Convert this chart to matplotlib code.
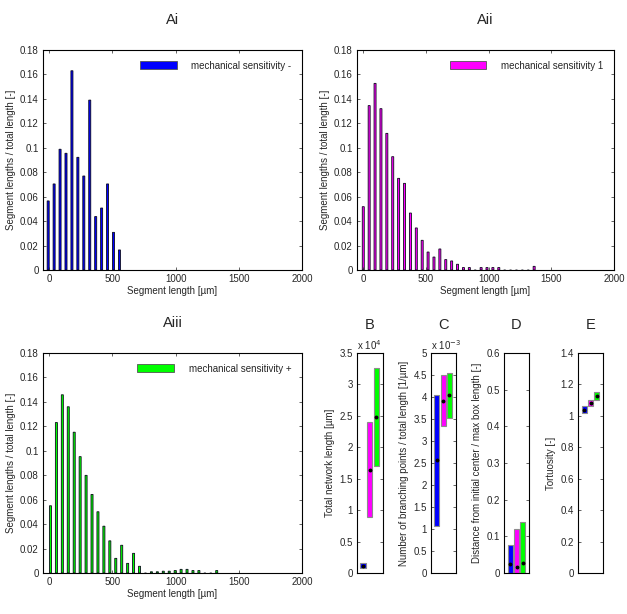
import matplotlib.pyplot as plt
from matplotlib.patches import Patch
from matplotlib.ticker import FuncFormatter

plt.rcParams['font.family'] = ['Liberation Sans', 'DejaVu Sans']
plt.rcParams['font.size'] = 7
plt.rcParams['text.color'] = '#262626'
plt.rcParams['xtick.color'] = '#262626'
plt.rcParams['ytick.color'] = '#262626'
plt.rcParams['axes.labelcolor'] = '#262626'

# histogram bin centres [um]
bin_centres = [0, 47, 94, 141, 188, 235, 282, 329, 376, 423, 470, 517, 564, 611, 658,
               705, 752, 799, 846, 893, 940, 987, 1034, 1081, 1128, 1175, 1222, 1269,
               1316, 1363]

# fraction of total length per bin
hist_minus = [0.0565, 0.0704, 0.0988, 0.0955, 0.163, 0.0922, 0.0769, 0.139, 0.0437,
              0.0507, 0.0704, 0.0308, 0.0164]
hist_one = [0.0518, 0.1345, 0.1527, 0.132, 0.1118, 0.0927, 0.075, 0.0709, 0.0466,
            0.0344, 0.0243, 0.0147, 0.0106, 0.0172, 0.0085, 0.0074, 0.0047, 0.002,
            0.002, 0, 0.002, 0.002, 0.002, 0.002, 0, 0, 0, 0, 0, 0.003]
hist_plus = [0.055, 0.1231, 0.1458, 0.136, 0.1152, 0.0952, 0.0799, 0.0643, 0.0501,
             0.0383, 0.0263, 0.012, 0.0227, 0.0079, 0.0161, 0.0055, 0, 0.001, 0.001,
             0.0015, 0.0015, 0.002, 0.003, 0.003, 0.002, 0.002, 0, 0, 0.002]

group_names = ['mechanical sensitivity -', 'mechanical sensitivity 1',
               'mechanical sensitivity +']
group_colors = ['#0000ff', '#ff00ff', '#00ff00']
group_offsets = [-9, 0, 9]

# summary panels: (min, max, mean) per group
total_length = [(850, 1520, 1180), (8950, 23950, 16450), (16950, 32650, 24800)]
branch_density = [(1.07e-3, 4.05e-3, 2.56e-3), (3.34e-3, 4.5e-3, 3.92e-3),
                  (3.53e-3, 4.55e-3, 4.04e-3)]
center_distance = [(0, 0.076, 0.024), (0, 0.119, 0.016), (0, 0.14, 0.028)]
tortuosity = [(1.02, 1.065, 1.04), (1.065, 1.10, 1.083), (1.10, 1.155, 1.127)]

fig = plt.figure(figsize=(6.27, 6.14), dpi=100)
W, H = 627.0, 614.0


def add_ax(left, top, right, bottom):
    return fig.add_axes([left / W, 1 - bottom / H, (right - left) / W, (bottom - top) / H])


def style(ax):
    for s in ax.spines.values():
        s.set_linewidth(0.8)
        s.set_color('black')
    ax.tick_params(direction='in', length=2.5, width=0.5, labelsize=7, pad=3)


hist_axes = [add_ax(43, 50, 302, 270), add_ax(357, 50, 614, 270), add_ax(43, 353, 302, 573)]
hist_data = [hist_minus, hist_one, hist_plus]
titles = ['Ai', 'Aii', 'Aiii']

for ax, vals, name, col, off, title in zip(hist_axes, hist_data, group_names,
                                           group_colors, group_offsets, titles):
    xs = [c + off for c in bin_centres[:len(vals)]]
    ax.bar(xs, vals, width=16, color=col, edgecolor='#0a0a1a', linewidth=0.6, snap=False)
    ax.set_xlim(-50, 2000)
    ax.set_ylim(0, 0.18)
    ax.set_xticks([0, 500, 1000, 1500, 2000])
    ax.set_yticks([0, 0.02, 0.04, 0.06, 0.08, 0.1, 0.12, 0.14, 0.16, 0.18])
    ax.yaxis.set_major_formatter(FuncFormatter(lambda v, p: f'{v:g}'))
    ax.tick_params(top=True, right=True)
    style(ax)
    ax.set_xlabel('Segment length [µm]', labelpad=1)
    ax.set_ylabel('Segment lengths / total length [-]', labelpad=3)
    ax.set_title(title, fontsize=10.5, pad=19)
    ax.legend(handles=[Patch(facecolor=col, edgecolor='#555555', linewidth=0.6, label=name)],
              loc='upper right', frameon=False, fontsize=7, handlelength=3.8,
              handleheight=0.9, borderaxespad=0.7, handletextpad=1.5)

summary_axes = [add_ax(357, 353, 383, 573), add_ax(431, 353, 456, 573),
                add_ax(504, 353, 529, 573), add_ax(578, 353, 603, 573)]
summary_data = [total_length, branch_density, center_distance, tortuosity]
summary_titles = ['B', 'C', 'D', 'E']
summary_labels = ['Total network length [µm]',
                  'Number of branching points / total length [1/µm]',
                  'Distance from initial center / max box length [-]',
                  'Tortuosity [-]']
summary_ylims = [(0, 35000), (0, 5e-3), (0, 0.6), (0, 1.4)]
summary_ticks = [[0, 5000, 10000, 15000, 20000, 25000, 30000, 35000],
                 [0, 0.5e-3, 1e-3, 1.5e-3, 2e-3, 2.5e-3, 3e-3, 3.5e-3, 4e-3, 4.5e-3, 5e-3],
                 [0, 0.1, 0.2, 0.3, 0.4, 0.5, 0.6],
                 [0, 0.2, 0.4, 0.6, 0.8, 1, 1.2, 1.4]]
summary_scale = [1e4, 1e-3, 1, 1]
summary_exp = ['x 10$^{4}$', 'x 10$^{-3}$', None, None]
summary_xlims = [(0.15, 3.95), (0.05, 4.05), (0, 4), (0, 4)]

for ax, data, title, lab, yl, ticks, sc, ex, xl in zip(
        summary_axes, summary_data, summary_titles, summary_labels, summary_ylims,
        summary_ticks, summary_scale, summary_exp, summary_xlims):
    for i, (lo, hi, mean) in enumerate(data):
        ax.bar(i + 1, hi - lo, bottom=lo, width=0.8, color=group_colors[i],
               edgecolor='#8c8c8c', linewidth=0.8)
        ax.plot(i + 1, mean, 'o', color='black', markersize=1.8)
    ax.set_xlim(*xl)
    ax.set_ylim(*yl)
    ax.set_xticks([])
    ax.set_yticks(ticks)
    ax.yaxis.set_major_formatter(FuncFormatter(lambda v, p, s=sc: f'{v / s:g}'))
    ax.tick_params(right=True)
    style(ax)
    ax.set_ylabel(lab, labelpad=3)
    ax.set_title(title, fontsize=10.5, pad=17)
    if ex:
        ax.text(0, 1.005, ex, transform=ax.transAxes, ha='left', va='bottom', fontsize=7)

fig.savefig('out.png', dpi=100, facecolor='white')
